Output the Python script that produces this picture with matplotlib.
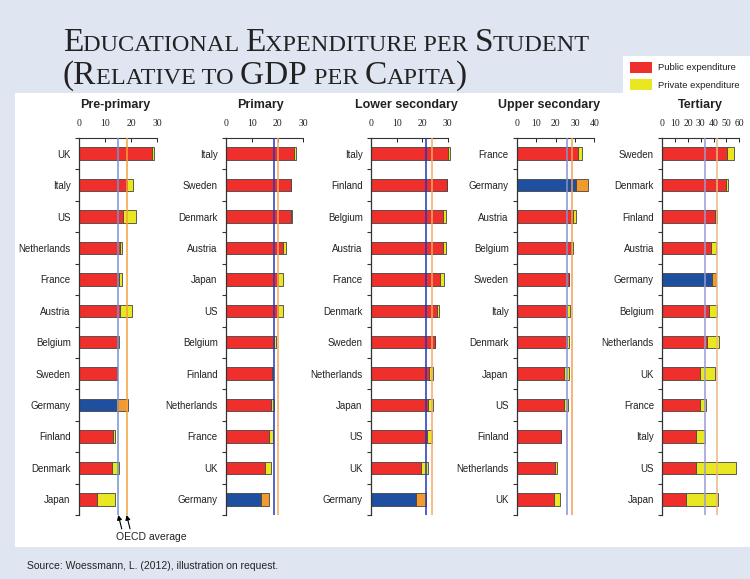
import matplotlib
matplotlib.use("Agg")
import matplotlib.pyplot as plt
from matplotlib.patches import Rectangle
from matplotlib.ticker import FixedLocator

# Data: expenditure per student relative to GDP per capita (%)
pre_countries = ['UK', 'Italy', 'US', 'Netherlands', 'France', 'Austria',
                 'Belgium', 'Sweden', 'Germany', 'Finland', 'Denmark', 'Japan']
pre_public = [27.9, 18.3, 17.0, 15.8, 15.5, 15.8, 14.9, 14.7, 14.1, 13.0, 12.6, 6.8]
pre_private = [1.1, 2.3, 4.8, 0.6, 1.2, 4.7, 0.5, 0.1, 4.9, 1.0, 2.8, 6.9]

prim_countries = ['Italy', 'Sweden', 'Denmark', 'Austria', 'Japan', 'US',
                  'Belgium', 'Finland', 'Netherlands', 'France', 'UK', 'Germany']
prim_public = [26.4, 25.1, 25.1, 22.2, 20.3, 20.0, 18.6, 17.9, 17.3, 16.7, 15.1, 13.7]
prim_private = [0.7, 0.1, 0.4, 0.9, 1.9, 2.2, 0.8, 0.3, 1.2, 1.4, 2.5, 2.8]

low_countries = ['Italy', 'Finland', 'Belgium', 'Austria', 'France', 'Denmark',
                 'Sweden', 'Netherlands', 'Japan', 'US', 'UK', 'Germany']
low_public = [30.0, 29.6, 28.0, 28.0, 26.8, 25.9, 25.1, 22.8, 22.4, 21.9, 19.4, 17.6]
low_private = [0.8, 0.1, 1.2, 1.2, 1.8, 0.8, 0.1, 1.5, 1.9, 2.0, 2.9, 3.8]

up_countries = ['France', 'Germany', 'Austria', 'Belgium', 'Sweden', 'Italy',
                'Denmark', 'Japan', 'US', 'Finland', 'Netherlands', 'UK']
up_public = [31.4, 30.4, 29.2, 27.8, 26.9, 26.0, 26.0, 24.3, 24.3, 22.9, 19.5, 19.2]
up_private = [2.2, 6.3, 1.2, 1.0, 0.1, 1.4, 0.8, 2.4, 1.9, 0.1, 1.4, 3.1]

ter_countries = ['Sweden', 'Denmark', 'Finland', 'Austria', 'Germany', 'Belgium',
                 'Netherlands', 'UK', 'France', 'Italy', 'US', 'Japan']
ter_public = [50.2, 49.6, 40.8, 38.2, 38.5, 36.2, 34.6, 29.4, 29.4, 26.0, 26.0, 18.5]
ter_private = [5.9, 1.6, 1.8, 3.4, 3.1, 6.2, 9.4, 11.9, 4.7, 7.0, 31.4, 24.9]

# two OECD average lines per panel (left/right arrow)
oecd_avg_a = [15.1, 18.7, 21.6, 25.7, 33.0]
oecd_avg_b = [18.3, 20.0, 23.7, 28.3, 42.9]

panel_titles = ['Pre-primary', 'Primary', 'Lower secondary', 'Upper secondary', 'Tertiary']
panel_ticks = [[0, 10, 20, 30], [0, 10, 20, 30], [0, 10, 20, 30],
               [0, 10, 20, 30, 40], [0, 10, 20, 30, 40, 50, 60]]

W, H = 750, 579
RED = '#ee2f2b'
YELLOW = '#e9e622'
BLUE = '#1f50a0'
ORANGE = '#f39a2e'
BG = '#dfe6f2'

fig = plt.figure(figsize=(W / 100, H / 100), dpi=100, facecolor=BG)

# white content panel + legend box
fig.add_artist(Rectangle((15 / W, 1 - 547 / H), 1, (547 - 93) / H,
                         transform=fig.transFigure, facecolor='white', edgecolor='none', zorder=0))
fig.add_artist(Rectangle((623 / W, 1 - 94 / H), 1, 38 / H,
                         transform=fig.transFigure, facecolor='white', edgecolor='none', zorder=0))


def px(x, y):
    return x / W, 1 - y / H


# small caps title, drawn piece by piece
renderer = fig.canvas.get_renderer()


def small_caps(pieces, x0, y0, big=24, small=17.5):
    x = x0
    for txt, is_big in pieces:
        t = fig.text(x, y0, txt, fontsize=big if is_big else small,
                     family='Liberation Serif', color='#222222', va='baseline', ha='left')
        bb = t.get_window_extent(renderer)
        x += bb.width / W


small_caps([('E', 1), ('DUCATIONAL ', 0), ('E', 1), ('XPENDITURE PER ', 0),
            ('S', 1), ('TUDENT', 0)], *px(63, 51))
small_caps([('(R', 1), ('ELATIVE TO ', 0), ('GDP ', 1), ('PER ', 0),
            ('C', 1), ('APITA', 0), (')', 1)], *px(63, 84))

# legend
for yy, col, lab in [(62, RED, 'Public expenditure'), (79, YELLOW, 'Private expenditure')]:
    fig.add_artist(Rectangle(px(630, yy + 11), 22 / W, 11 / H, transform=fig.transFigure,
                             facecolor=col, edgecolor='none'))
    fig.text(*px(658, yy + 6), lab, fontsize=6.8, va='center', ha='left',
             family='Liberation Sans', color='#222222')

panels = [
    (pre_countries, pre_public, pre_private),
    (prim_countries, prim_public, prim_private),
    (low_countries, low_public, low_private),
    (up_countries, up_public, up_private),
    (ter_countries, ter_public, ter_private),
]
left_px = [79, 226, 371, 517, 662.3]
right_px = [157, 303.3, 447.7, 594.3, 739.3]
title_px = [115, 261, 406, 549, 700]
line_a_cols = ['#7593d4', '#2838b8', '#2233bb', '#8a90d2', '#9b9ad2']
line_b_cols = ['#f7a23a', '#f6a860', '#f6a860', '#f4a050', '#e8b880']

top, bot = 138, 515
axes = []
for i, (countries, pub, priv) in enumerate(panels):
    ax = fig.add_axes([left_px[i] / W, 1 - bot / H, (right_px[i] - left_px[i]) / W, (bot - top) / H])
    ax.set_facecolor('none')
    y = list(range(len(countries)))
    pub_cols = [BLUE if c == 'Germany' else RED for c in countries]
    priv_cols = [ORANGE if c == 'Germany' else YELLOW for c in countries]
    ax.barh(y, pub, height=0.4, color=pub_cols, edgecolor='#444444', linewidth=0.6,
            clip_on=False, zorder=2)
    ax.barh(y, priv, left=pub, height=0.4, color=priv_cols, edgecolor='#444444',
            linewidth=0.6, clip_on=False, zorder=2)
    ax.axvline(oecd_avg_a[i], color=line_a_cols[i], lw=1.1, zorder=3)
    ax.axvline(oecd_avg_b[i], color=line_b_cols[i], lw=1.1, zorder=3)

    ax.set_xlim(0, panel_ticks[i][-1])
    ax.set_ylim(len(countries) - 0.5, -0.5)
    ax.xaxis.tick_top()
    ax.set_xticks(panel_ticks[i])
    ax.set_xticklabels([str(t) for t in panel_ticks[i]], family='Liberation Serif',
                       fontsize=7, color='#222222')
    ax.tick_params(axis='x', direction='in', length=3, width=0.7, pad=7, colors='#222222')
    ax.set_yticks(y)
    ax.set_yticklabels(countries, fontsize=7, family='Liberation Sans', color='#222222')
    ax.tick_params(axis='y', which='major', length=0, pad=6)
    ax.yaxis.set_minor_locator(FixedLocator([k - 0.5 for k in range(len(countries) + 1)]))
    ax.tick_params(axis='y', which='minor', direction='out', length=3, width=0.8, color='#333333')
    for s in ['right', 'bottom']:
        ax.spines[s].set_visible(False)
    ax.spines['left'].set_color('#333333')
    ax.spines['top'].set_color('#333333')
    ax.spines['left'].set_linewidth(0.9)
    ax.spines['top'].set_linewidth(0.8)
    fig.text(*px(title_px[i], 105), panel_titles[i], fontsize=9, fontweight='bold',
             family='Liberation Sans', ha='center', va='center', color='#222222')
    axes.append(ax)

# OECD average arrows under the first panel
ax0 = axes[0]
for val in [oecd_avg_a[0], oecd_avg_b[0]]:
    ax0.annotate('', xy=(val, len(pre_countries) - 0.5), xycoords='data',
                 xytext=(2.5, -10), textcoords='offset points',
                 arrowprops=dict(arrowstyle='-|>', color='black', lw=0.8,
                                 mutation_scale=7, shrinkA=0, shrinkB=0),
                 annotation_clip=False)
fig.text(*px(116, 537), 'OECD average', fontsize=7.5, family='Liberation Sans',
         ha='left', va='center', color='#222222')

fig.text(*px(27, 566), 'Source: Woessmann, L. (2012), illustration on request.',
         fontsize=7.5, family='Liberation Sans', ha='left', va='center', color='#222222')

fig.savefig('out.png', dpi=100, facecolor=BG)
